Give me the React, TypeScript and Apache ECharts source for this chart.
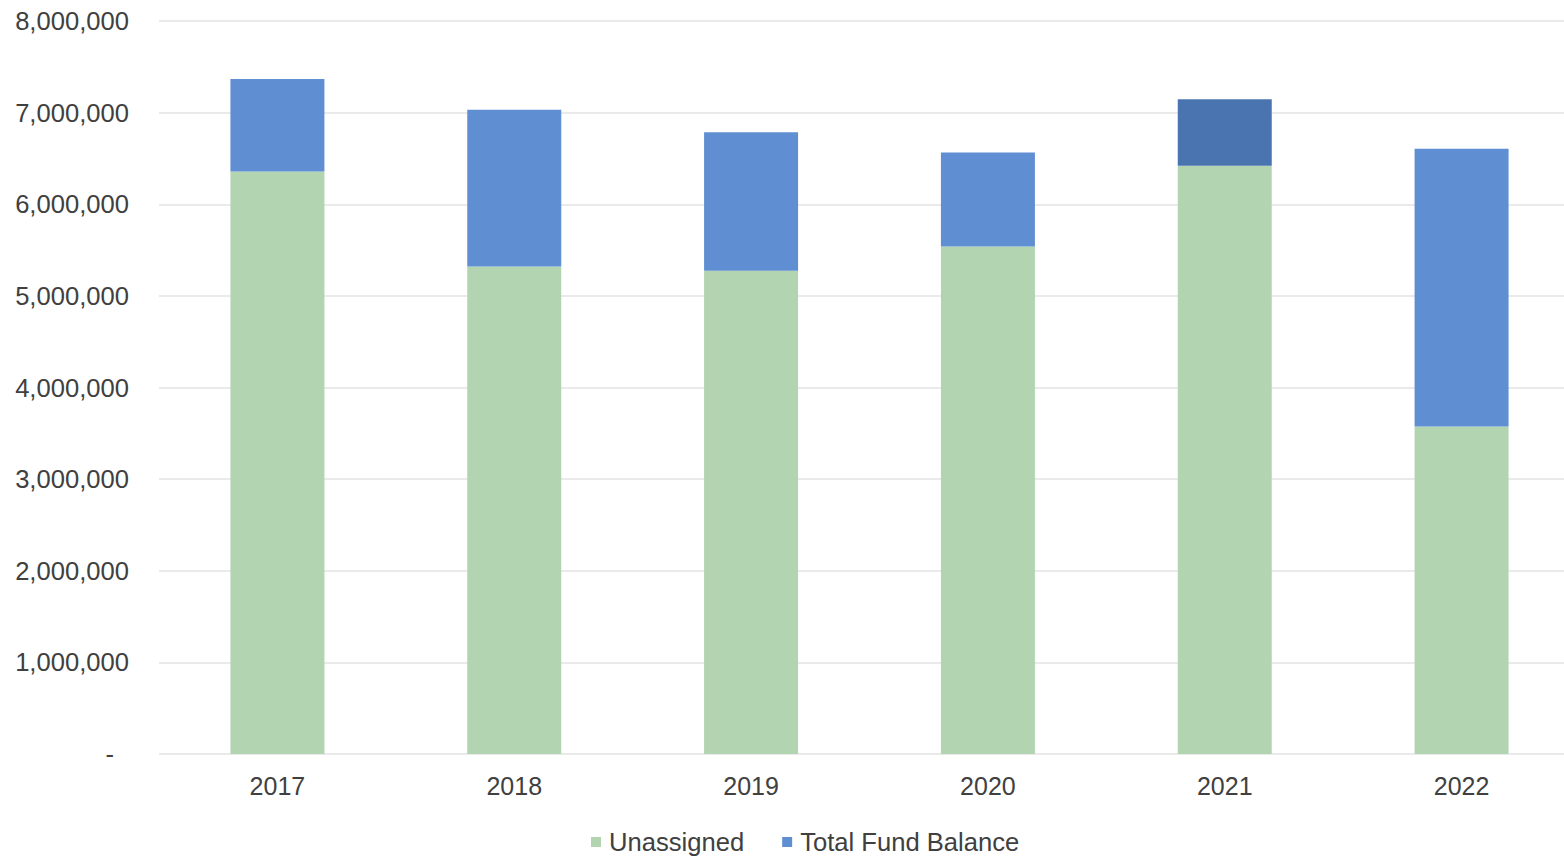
import React, { useEffect, useRef } from "react";
import * as echarts from "echarts";

const years = ["2017", "2018", "2019", "2020", "2021", "2022"];
const unassigned = [6357000, 5320000, 5273000, 5538000, 6419000, 3573000];
const fundBalanceTop = [1009000, 1711000, 1514000, 1026000, 728000, 3032000];
const yTicks = [0, 1000000, 2000000, 3000000, 4000000, 5000000, 6000000, 7000000, 8000000];

const GREEN = "#b3d4b1";
const BLUE = "#5f8fd2";
const DARK_BLUE = "#4a74b0";
const TEXT = "#404040";

export default function App() {
  const ref = useRef<HTMLDivElement>(null);
  useEffect(() => {
    if (!ref.current) return;
    const chart = echarts.init(ref.current, undefined, { renderer: "svg" });
    chart.setOption({
      animation: false,
      backgroundColor: "#ffffff",
      textStyle: { fontFamily: "Liberation Sans, Arial, sans-serif" },
      grid: { left: 159, top: 21, width: 1421, height: 733, containLabel: false },
      legend: {
        left: 591,
        top: 829,
        padding: 0,
        itemWidth: 10,
        itemHeight: 10,
        itemGap: 38,
        icon: "rect",
        textStyle: { fontSize: 25.6, color: TEXT, padding: [0, 0, 0, 3] },
        data: [
          { name: "Unassigned", itemStyle: { color: GREEN } },
          { name: "Total Fund Balance", itemStyle: { color: BLUE } },
        ],
      },
      xAxis: {
        type: "category",
        data: years,
        axisLine: { show: false },
        axisTick: { show: false },
        axisLabel: { fontSize: 25, color: TEXT, margin: 19 },
      },
      yAxis: {
        type: "value",
        min: yTicks[0],
        max: yTicks[yTicks.length - 1],
        interval: 1000000,
        axisLine: { show: false },
        axisTick: { show: false },
        splitLine: { lineStyle: { color: "#e3e3e3", width: 1.5 } },
        axisLabel: {
          fontSize: 25.6,
          color: TEXT,
          margin: 30,
          formatter: (v: number) => (v === 0 ? "{z|-}" : v.toLocaleString("en-US")),
          rich: { z: { fontSize: 25.6, color: TEXT, padding: [0, 15, 0, 0] } },
        },
      },
      series: [
        {
          name: "Unassigned",
          type: "bar",
          stack: "total",
          barWidth: 94,
          itemStyle: { color: GREEN },
          data: unassigned,
        },
        {
          name: "Total Fund Balance",
          type: "bar",
          stack: "total",
          barWidth: 94,
          itemStyle: { color: BLUE },
          data: fundBalanceTop.map((v, i) =>
            years[i] === "2021" ? { value: v, itemStyle: { color: DARK_BLUE } } : v
          ),
        },
      ],
    });
    return () => chart.dispose();
  }, []);
  return (
    <div style={{ position: "absolute", left: 0, top: 0, width: 1564, height: 856, overflow: "hidden" }}>
      <div ref={ref} style={{ width: 1584, height: 856 }} />
    </div>
  );
}
